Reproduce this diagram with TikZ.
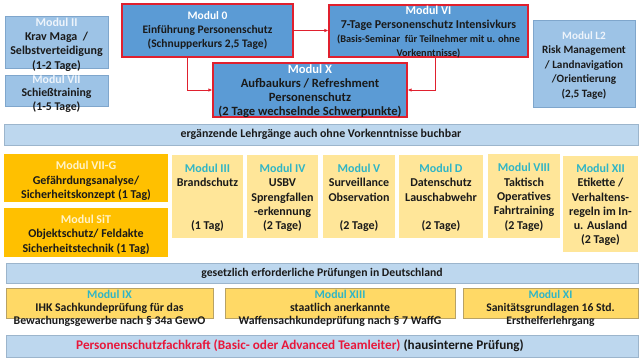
\documentclass[tikz,border=0pt]{standalone}
\usepackage{fontspec}
\setmainfont{Carlito}
\usetikzlibrary{fit,arrows.meta}
\definecolor{lb}{HTML}{9DC3E6}
\definecolor{lbd}{HTML}{7FA6CC}
\definecolor{mb}{HTML}{5B9BD5}
\definecolor{rd}{HTML}{E0202E}
\definecolor{band}{HTML}{BDD7EE}
\definecolor{bandd}{HTML}{9CB5CC}
\definecolor{org}{HTML}{FFC000}
\definecolor{gl}{HTML}{FFE699}
\definecolor{gd}{HTML}{FFD966}
\definecolor{gdd}{HTML}{B8A265}
\definecolor{teal}{HTML}{2FB5C6}
\definecolor{pale}{HTML}{EEF4FB}
\definecolor{cream}{HTML}{FFF3C8}
\definecolor{tx}{HTML}{1A1A1A}
\definecolor{redtx}{HTML}{E8173A}
\newcommand\fs[2]{\fontsize{#1}{#2}\selectfont\bfseries}
\tikzset{
  bx/.style={inner sep=0pt, draw=none},
  lbbox/.style={bx, fill=lb, draw=lbd, line width=0.6pt},
  mbbox/.style={bx, fill=mb, draw=rd, line width=1.2pt},
  bandbox/.style={bx, fill=band, draw=bandd, line width=0.6pt},
  orgbox/.style={bx, fill=org},
  glbox/.style={bx, fill=gl},
  gdbox/.style={bx, fill=gd, draw=gdd, line width=0.5pt},
  txt/.style={inner sep=0pt, align=center, text=tx, font=\fs{12}{14.3}},
  conn/.style={draw=rd, line width=1pt, -{Latex[length=4pt,width=3.5pt]}},
}
\begin{document}
\begin{tikzpicture}[x=1pt,y=-1pt]
\useasboundingbox[fill=white] (0,0) rectangle (640,360);
% top row
\node[lbbox, fit={(5,16)(108,68)}] (m2) {};
\node[txt] (m2t) at ([yshift=-2.5pt]m2.center) {\textcolor{pale}{Modul II}\\Krav Maga~ /\\Selbstverteidigung\\(1-2 Tage)};
\node[lbbox, fit={(5,75)(108,106)}] (m7) {};
\node[txt, font=\fs{11.8}{13.5}] (m7t) at ([yshift=-3pt]m7.center) {\textcolor{pale}{Modul VII}\\Schießtraining\\(1-5 Tage)};
\node[mbbox, fit={(122,4)(293,57)}] (m0) {};
\node[txt, font=\fs{11.5}{14}] (m0t) at ([yshift=0pt]m0.center) {\textcolor{white}{Modul 0}\\Einführung Personenschutz\\(Schnupperkurs 2,5 Tage)};
\node[mbbox, fit={(329,5)(528,57)}] (m6) {};
\node[txt, font=\fs{12}{14}] (m6t) at ([yshift=-1.5pt]m6.center) {\textcolor{white}{Modul VI}\\7-Tage Personenschutz Intensivkurs\\{\fs{10.3}{14}(Basis-Seminar~ für Teilnehmer mit u. ohne}\\{\fs{10.3}{13}Vorkenntnisse)}};
\node[mbbox, fit={(213,63)(407,117)}] (mx) {};
\node[txt, font=\fs{12.6}{14}] (mxt) at ([yshift=-1.5pt]mx.center) {\textcolor{white}{Modul X}\\Aufbaukurs / Refreshment\\Personenschutz\\(2 Tage wechselnde Schwerpunkte)};
\node[lbbox, fit={(533,20)(635,107)}] (ml2) {};
\node[txt, font=\fs{11.2}{14.5}] (ml2t) at ([yshift=-2pt]ml2.center) {\textcolor{pale}{Modul L2}\\Risk Management\\/ Landnavigation\\/Orientierung\\(2,5 Tage)};
\coordinate (c1) at (187,0);
\coordinate (c2) at (435,0);
\draw[conn] (m0.east) -- (m0.east -| m6.west);
\draw[conn] (m0.south -| c1) |- (mx.west);
\draw[conn] (m6.south -| c2) |- (mx.east);
% band 1
\node[bandbox, fit={(4,124)(638,145)}] (b1) {};
\node[txt, font=\fs{11.9}{14}] (b1t) at (b1.center) {ergänzende Lehrgänge auch ohne Vorkenntnisse buchbar};
% middle row
\node[orgbox, fit={(4,154)(168,202)}] (m7g) {};
\node[txt, font=\fs{12}{14.5}] (m7gt) at ([yshift=-3pt]m7g.center) {\textcolor{cream}{Modul VII-G}\\Gefährdungsanalyse/\\Sicherheitskonzept (1 Tag)};
\node[orgbox, fit={(4,208)(168,257)}] (msit) {};
\node[txt, font=\fs{12}{14.5}] (msitt) at ([yshift=-2pt]msit.center) {\textcolor{cream}{Modul SiT}\\Objektschutz/ Feldakte\\Sicherheitstechnik (1 Tag)};
\node[glbox, fit={(172,155)(243,238)}] (m3) {};
\node[txt, anchor=north] (m3t) at ([yshift=-9pt]m3.north) {\textcolor{teal}{Modul III}\\Brandschutz\\[28.6pt](1 Tag)};
\node[glbox, fit={(247,155)(318,238)}] (m4) {};
\node[txt, anchor=north] (m4t) at ([yshift=-9pt]m4.north) {\textcolor{teal}{Modul IV}\\USBV\\Sprengfallen\\-erkennung\\(2 Tage)};
\node[glbox, fit={(323,155)(395,238)}] (m5) {};
\node[txt, anchor=north] (m5t) at ([yshift=-9pt]m5.north) {\textcolor{teal}{Modul V}\\Surveillance\\Observation\\[14.3pt](2 Tage)};
\node[glbox, fit={(399,155)(483,238)}] (md) {};
\node[txt, anchor=north] (mdt) at ([yshift=-9pt]md.north) {\textcolor{teal}{Modul D}\\Datenschutz\\Lauschabwehr\\[14.3pt](2 Tage)};
\node[glbox, fit={(488,154)(560,238)}] (m8) {};
\node[txt, anchor=north] (m8t) at ([yshift=-9.5pt]m8.north) {\textcolor{teal}{Modul VIII}\\Taktisch\\Operatives\\Fahrtraining\\(2 Tage)};
\node[glbox, fit={(563,156)(638,252)}] (m12) {};
\node[txt, anchor=north] (m12t) at ([yshift=-8pt]m12.north) {\textcolor{teal}{Modul XII}\\Etikette /\\Verhaltens-\\regeln im In-\\u. Ausland\\(2 Tage)};
% band 2
\node[bandbox, fit={(6,263)(638,283)}] (b2) {};
\node[txt, font=\fs{11.7}{14}] (b2t) at (b2.center) {gesetzlich erforderliche Prüfungen in Deutschland};
% bottom row
\node[gdbox, fit={(6,288)(213,318)}] (m9) {};
\node[txt, font=\fs{11.8}{13}] (m9t) at ([yshift=-5pt]m9.center) {\textcolor{teal}{Modul IX}\\IHK Sachkundeprüfung für das\\Bewachungsgewerbe nach § 34a GewO};
\node[gdbox, fit={(225,288)(455,318)}] (m13) {};
\node[txt, font=\fs{11.8}{13}] (m13t) at ([yshift=-5pt]m13.center) {\textcolor{teal}{Modul XIII}\\staatlich anerkannte\hspace*{2.5em}\\Waffensachkundeprüfung nach § 7 WaffG};
\node[gdbox, fit={(463,288)(638,318)}] (m11) {};
\node[txt, font=\fs{11.6}{13}] (m11t) at ([yshift=-5pt]m11.center) {\textcolor{teal}{Modul XI}\\Sanitätsgrundlagen 16 Std.\\Ersthelferlehrgang};
% band 3
\node[bandbox, fit={(6,335)(638,357)}] (b3) {};
\node[txt, anchor=west, font=\fs{13.2}{15}] (b3t) at (76,346) {\textcolor{redtx}{Personenschutzfachkraft (Basic- oder Advanced Teamleiter)} (hausinterne Prüfung)};
\end{tikzpicture}
\end{document}
